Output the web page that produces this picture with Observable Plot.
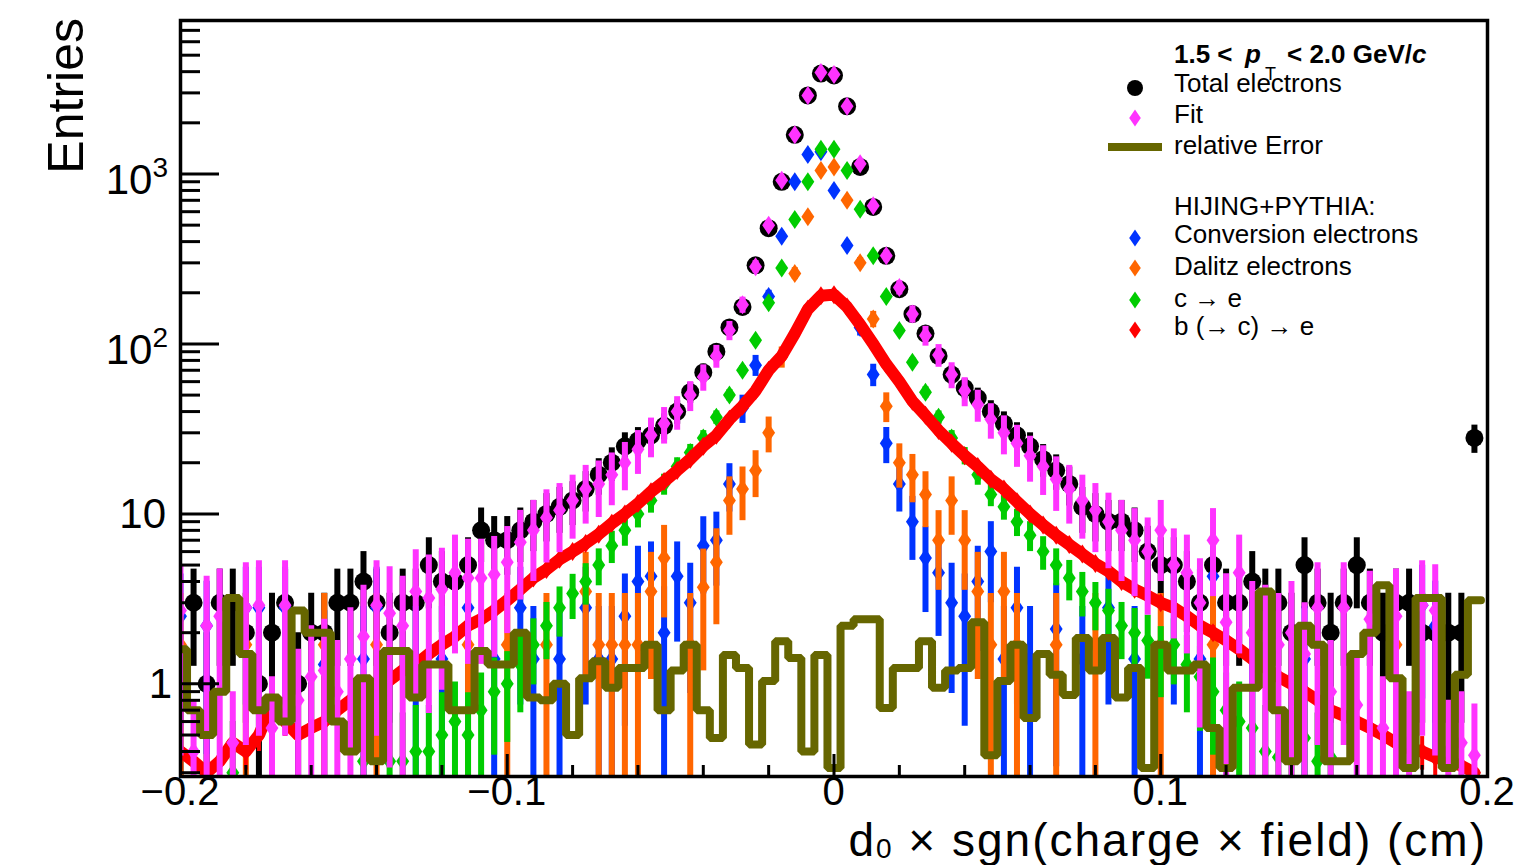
<!DOCTYPE html>
<html><head><meta charset="utf-8">
<script src="https://cdn.jsdelivr.net/npm/d3@7"></script>
<script src="https://cdn.jsdelivr.net/npm/@observablehq/plot@0.6"></script>
<style>
html,body{margin:0;padding:0;background:#fff;}
#chart{width:1516px;height:865px;}
</style></head><body><div id="chart"></div>
<script>
// ---- binning (0.004 cm bins, centres from -0.2) ----
const binWidth = 0.004;
const nBins = 100;
const xCenter = d3.range(nBins).map(i => +(-0.2 + binWidth * i).toFixed(4));

// ---- series values (entries per bin) ----
const totalElectrons = [
  1,3,1,3,3,2,1,2,3,1,
  2,2,3,3,4,3,2,3,3,5,
  4,4,5,8,7,7,8,9,10,11,
  12,14,17,20,25,27,29,33,40,52,
  68,90,125,165,290,480,900,1700,2900,3900,
  3800,2500,1100,640,330,210,150,115,85,66,
  55,48,40,34,29,25,21,18,15,11,
  10,9,9,8,6,5,5,4,3,5,
  3,3,4,3,3,2,5,3,2,3,
  5,3,2,3,3,2,2,2,2,28];
const fitValues = [
  2.7,0.4,2.2,2.5,0.45,2.8,2.9,0.55,2.9,0.8,
  1.1,1.2,0.9,1.4,1.9,2.9,2.6,2.2,3.5,3.2,
  3.6,4.5,4.2,4.2,4.4,5.2,6.8,8,9.5,10.5,
  12,14,15,17,20,24,29,34,40,50,
  64,85,120,170,285,500,920,1700,2900,3950,
  3850,2500,1150,650,330,215,150,112,86,66,
  53,44,36,30,26,22,19,16,14,12,
  10.5,9,8,7,6,8,5,4.5,3,7,
  2.3,4.5,2,1.9,1.7,2.0,1.5,2.8,0.9,2.8,
  0.75,2.4,0.55,2.5,0.45,2.9,2.7,0.4,0.45,0.38];
const relativeError = [
  1.6,0.7,0.5,0.9,3.2,1.5,0.7,0.83,0.6,2.7,
  2.0,2.0,0.6,0.4,1.08,0.35,1.56,1.56,0.83,1.3,
  1.3,0.7,0.7,1.56,1.3,1.3,2.0,0.83,0.8,1.0,
  0.5,1.08,1.36,0.95,1.24,1.24,1.7,0.7,1.2,1.7,
  0.7,0.48,1.48,1.24,0.44,1.04,1.78,1.42,0.4,1.48,
  0.32,2.2,2.4,2.4,0.72,1.24,1.24,1.78,0.95,1.2,
  1.24,2.3,0.38,1.04,1.7,0.63,1.5,1.13,0.86,1.86,
  1.2,1.86,0.83,1.24,0.32,1.7,1.2,1.2,1.3,0.55,
  0.32,0.95,0.95,3.5,0.7,0.35,2.2,1.7,0.35,0.35,
  1.5,2.0,3.8,1.08,0.32,3.2,3.2,0.32,1.13,3.1];
const conversionElectrons = [
  2.5,0,2.2,0,0,2.8,2.8,0,2.8,0,
  0,1.3,0,0,1.4,2.8,0,0,1.4,0,
  1.4,0,2.8,0,1.4,0,2.8,1.4,0,1.4,
  0,2.8,1.4,1.4,2.5,4,4.3,2,4.3,3,
  6.5,7,15,42,75,190,430,900,1300,1350,
  800,380,125,66,26,15,9,5.5,4.5,3,
  2.5,4,6,1.4,2.8,1.4,0,2.1,0,1.4,
  0,2.8,0,1.4,0,0,2.8,0,1.4,4.3,
  0,0,1.4,0,0,0,1.4,0,0,0,
  0,0,0,0,0,2.9,2.2,0,0,0];
const dalitzElectrons = [
  1.7,0,0,0,0,1.7,0,0,0,0,
  0,1.7,0,0,0,1.7,0,0,0,0,
  0,0,1.7,0,0,1.7,0,0,1.7,0,
  0,3.5,1.7,1.7,1.7,1.7,3.5,5.5,0,1.7,
  3.7,5.2,12,14,18,30,84,260,560,1050,
  1100,700,300,140,43,20,17,13,7,12,
  7,3.5,1.7,3.5,1.7,0,0,1.7,0,0,
  1.7,0,0,0,0,1.7,0,0,0,1.7,
  0,0,0,0,0,0,0,0,0,0,
  0,0,0,1.7,0,0,0,0,0,0];
const charmElectrons = [
  0,0,0,0,0.3,0,0,0,0,0,
  0,0,0,0,0.35,0,0.35,0.35,0.4,0.4,
  0.5,0.6,0.5,0.7,0.9,1.0,1.3,1.7,2.2,2.8,
  3.4,4,5,6.5,8,10,12,15,19,23,
  28,37,50,70,105,175,280,540,900,1400,
  1400,1050,620,330,190,120,78,52,37,28,
  22,17,13,11,9,7.5,6,5,4.2,3.5,
  3,2.7,2.2,2,1.8,1.5,1.7,1.3,1.1,0.9,
  0.7,0.6,0.55,0.4,0.37,0.4,0.48,0.35,0.37,0,
  0,0,0,0,0,0,0,0,0,0];
const beautyElectrons = [
  0.4,0.35,0.3,0.35,0.45,0.4,0.5,0.75,0.6,0.5,
  0.55,0.6,0.7,0.8,0.85,0.95,1.05,1.2,1.3,1.5,
  1.7,1.9,2.2,2.4,2.7,3.1,3.6,4.2,4.7,5.4,
  6.0,6.7,7.6,8.8,10,11.5,13.5,15.5,18,21,
  25,29,36,43,53,70,85,115,160,192,
  195,165,130,100,76,60,46,38,31,26,
  22,19,16,14,11.8,10,8.6,7.5,6.6,5.8,
  5.1,4.6,4.0,3.6,3.3,3.0,2.8,2.5,2.2,2.0,
  1.8,1.6,1.4,1.25,1.1,1.0,0.9,0.8,0.7,0.65,
  0.6,0.55,0.5,0.45,0.42,0.4,0.37,0.35,0.33,0.3];

// ---- axis ticks / labels ----
const yMajor = [1, 10, 100, 1000];
const yMajorLabels = [["1", null], ["10", null], ["10", "2"], ["10", "3"]];
const yMinor = [0.3,0.4,0.5,0.6,0.7,0.8,0.9,2,3,4,5,6,7,8,9,20,30,40,50,60,70,80,90,
                200,300,400,500,600,700,800,900,2000,3000,4000,5000,6000,7000,8000];
const xMajor = [-0.2, -0.1, 0, 0.1, 0.2];
const xMajorLabels = ["\u22120.2", "\u22120.1", "0", "0.1", "0.2"];
const xMinor = [-0.18,-0.16,-0.14,-0.12,-0.08,-0.06,-0.04,-0.02,0.02,0.04,0.06,0.08,0.12,0.14,0.16,0.18];

const C = {total:"#000000", fit:"#ff33ff", relErr:"#666600", conv:"#0033ff",
           dalitz:"#ff6600", charm:"#00cc00", beauty:"#ff0000"};
const FONT = "'Liberation Sans', Arial, Helvetica, sans-serif";

const yMin = 0.285, yMax = 8000;
const W = 1516, H = 865, mL = 180, mR = 29, mT = 20, mB = 89;
const frameW = W - mL - mR, frameH = H - mT - mB;

const diamond = {draw(ctx, size) {
  const r = Math.sqrt(size / Math.PI), w = r * 0.68;
  ctx.moveTo(0, -r); ctx.lineTo(w, 0); ctx.lineTo(0, r); ctx.lineTo(-w, 0); ctx.closePath();
}};

function rows(arr, errFn) {
  return xCenter.map((x, i) => {
    const v = arr[i];
    const e = errFn(v);
    return {x, v, lo: Math.max(v - e, 0.05), hi: v + e};
  }).filter(d => d.v > 0);
}
const rTotal = rows(totalElectrons, v => Math.sqrt(v));
const rFit = rows(fitValues, v => Math.sqrt(v * Math.min(v, 2)));
const rConv = rows(conversionElectrons, v => Math.sqrt(1.5 * v));
const rDal = rows(dalitzElectrons, v => Math.sqrt(1.7 * v));
const rCharm = rows(charmElectrons, v => Math.sqrt(0.3 * v));
const rBeauty = rows(beautyElectrons, v => Math.sqrt(0.02 * v));
const rRel = xCenter.flatMap((x, i) => [
  {x: x - binWidth / 2, v: relativeError[i]},
  {x: x + binWidth / 2, v: relativeError[i]}]);

function series(r, color, sym, rad, bw) {
  return [
    Plot.ruleX(r, {x: "x", y1: "lo", y2: "hi", stroke: color, strokeWidth: bw, clip: true}),
    Plot.dot(r, {x: "x", y: "v", r: rad, symbol: sym, fill: color, stroke: "none", clip: true})
  ];
}

const chart = Plot.plot({
  width: W, height: H,
  marginLeft: mL, marginRight: mR, marginTop: mT, marginBottom: mB,
  style: {background: "white", fontFamily: FONT},
  x: {domain: [-0.2, 0.2], axis: null},
  y: {type: "log", domain: [yMin, yMax], axis: null},
  marks: [
    ...series(rTotal, C.total, "circle", 9, 6),
    ...series(rConv, C.conv, diamond, 9.5, 6),
    ...series(rDal, C.dalitz, diamond, 9.5, 6),
    ...series(rCharm, C.charm, diamond, 9.5, 6),
    Plot.line(rBeauty, {x: "x", y: "v", stroke: C.beauty, strokeWidth: 12, clip: true}),
    ...series(rBeauty, C.beauty, diamond, 9.5, 4),
    ...series(rFit, C.fit, diamond, 9.5, 6),
    Plot.line(rRel, {x: "x", y: "v", stroke: C.relErr, strokeWidth: 8, strokeLinejoin: "miter", clip: true}),
    Plot.tickY(yMajor, {y: d => d, stroke: "black", strokeWidth: 3, insetRight: frameW - 39}),
    Plot.tickY(yMinor, {y: d => d, stroke: "black", strokeWidth: 3, insetRight: frameW - 20}),
    Plot.tickX(xMajor, {x: d => d, stroke: "black", strokeWidth: 3, insetTop: frameH - 22}),
    Plot.tickX(xMinor, {x: d => d, stroke: "black", strokeWidth: 3, insetTop: frameH - 11}),
    Plot.frame({stroke: "black", strokeWidth: 3.5})
  ]
});
document.getElementById("chart").appendChild(chart);

const svg = d3.select(chart);
const xs = chart.scale("x"), ys = chart.scale("y");
const g = svg.append("g").attr("font-family", FONT).attr("fill", "black");

// y tick labels
yMajor.forEach((v, i) => {
  const [base, exp] = yMajorLabels[i];
  const y = ys.apply(v);
  const t = g.append("text").attr("text-anchor", "end").attr("font-size", 42)
    .attr("x", exp ? 168 : (base === "1" ? 172 : 166)).attr("y", y + (exp ? 21 : 15));
  t.append("tspan").text(base);
  if (exp) t.append("tspan").attr("font-size", 28).attr("dy", -17).text(exp);
});
// x tick labels
xMajor.forEach((v, i) => {
  g.append("text").attr("text-anchor", "middle").attr("font-size", 40)
    .attr("x", xs.apply(v)).attr("y", 805).text(xMajorLabels[i]);
});
// axis titles
g.append("text").attr("text-anchor", "end").attr("font-size", 50)
  .attr("transform", "translate(83,18) rotate(-90)").text("Entries");
const xt = g.append("text").attr("text-anchor", "end").attr("font-size", 46)
  .attr("letter-spacing", 2).attr("x", W - mR).attr("y", 856);
xt.append("tspan").text("d");
xt.append("tspan").attr("font-size", 28).attr("dy", 2).text("0");
xt.append("tspan").attr("dy", -2).text(" \u00d7 sgn(charge \u00d7 field) (cm)");

// legend
const lg = svg.append("g").attr("font-family", FONT).attr("font-size", 26)
  .attr("fill", "black").attr("text-anchor", "start");
lg.append("text").attr("x", 1174).attr("y", 63).attr("font-weight", "bold").text("1.5 <");
lg.append("text").attr("x", 1245).attr("y", 63).attr("font-weight", "bold").attr("font-style", "italic").text("p");
lg.append("text").attr("x", 1265).attr("y", 80).attr("font-size", 18).text("T");
const lt = lg.append("text").attr("x", 1287).attr("y", 63).attr("font-weight", "bold");
lt.append("tspan").text("< 2.0 GeV/");
lt.append("tspan").attr("font-style", "italic").text("c");

const legendRows = [
  {type: "circle", color: C.total, label: "Total electrons", ty: 92, my: 88},
  {type: "diamond", color: C.fit, label: "Fit", ty: 123, my: 118},
  {type: "line", color: C.relErr, label: "relative Error", ty: 154, my: 147},
  {type: null, color: null, label: "HIJING+PYTHIA:", ty: 215, my: 0},
  {type: "diamond", color: C.conv, label: "Conversion electrons", ty: 243, my: 238},
  {type: "diamond", color: C.dalitz, label: "Dalitz electrons", ty: 275, my: 268},
  {type: "diamond", color: C.charm, label: "c \u2192 e", ty: 307, my: 300},
  {type: "diamond", color: C.beauty, label: "b (\u2192 c) \u2192 e", ty: 335, my: 330}
];
legendRows.forEach(d => {
  lg.append("text").attr("x", 1174).attr("y", d.ty).text(d.label);
  if (d.type === "circle") lg.append("circle").attr("cx", 1135).attr("cy", d.my).attr("r", 8).attr("fill", d.color);
  if (d.type === "diamond") lg.append("path").attr("d", "M0,-8.5L5.8,0L0,8.5L-5.8,0Z")
    .attr("transform", `translate(1135,${d.my})`).attr("fill", d.color);
  if (d.type === "line") lg.append("line").attr("x1", 1108).attr("x2", 1162).attr("y1", d.my).attr("y2", d.my)
    .attr("stroke", d.color).attr("stroke-width", 8);
});
</script></body></html>
